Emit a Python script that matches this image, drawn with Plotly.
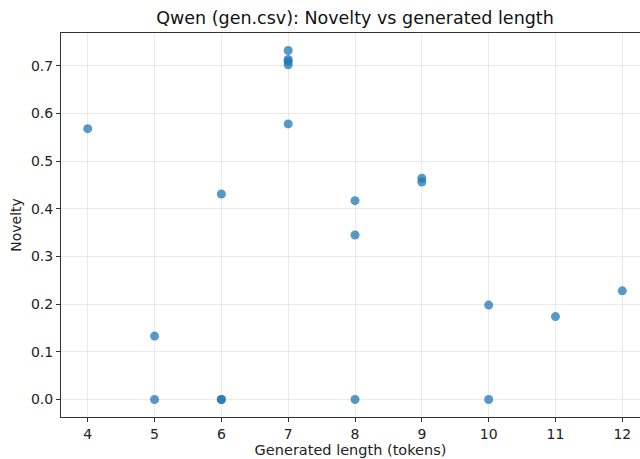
import plotly.graph_objects as go

gen_length = [4, 5, 5, 6, 6, 6, 7, 7, 7, 7, 7, 8, 8, 8, 9, 9, 10, 10, 11, 12]
novelty = [0.568, 0.133, 0.0, 0.431, 0.0, 0.0, 0.732, 0.713, 0.709, 0.702, 0.578,
           0.417, 0.345, 0.0, 0.464, 0.456, 0.198, 0.0, 0.174, 0.228]

fig = go.Figure()
fig.add_trace(go.Scatter(
    x=gen_length, y=novelty, mode="markers",
    marker=dict(color="#1f77b4", size=9, opacity=0.75, line=dict(width=0)),
    showlegend=False,
))

font = "DejaVu Sans"
fig.update_layout(
    width=640, height=459,
    margin=dict(l=61, r=0, t=33, b=42),
    paper_bgcolor="white", plot_bgcolor="white",
    font=dict(family=font, size=14, color="#222"),
    title=dict(text="Qwen (gen.csv): Novelty vs generated length",
               x=355/640, xref="container", xanchor="center",
               y=1-18/459, yref="container", yanchor="middle",
               font=dict(family=font, size=17.5, color="#111")),
)
fig.update_xaxes(
    range=[3.6, 12.265], tickvals=list(range(4, 13)),
    showline=True, linecolor="#333", linewidth=1, mirror=True,
    ticks="outside", ticklen=4, tickcolor="#333",
    showgrid=True, gridcolor="rgba(0,0,0,0.08)", gridwidth=1,
    zeroline=False,
    title=dict(text="Generated length (tokens)", standoff=4, font=dict(size=14.5)),
)
fig.update_yaxes(
    range=[-0.0366, 0.7686], tickvals=[0, 0.1, 0.2, 0.3, 0.4, 0.5, 0.6, 0.7],
    tickformat=".1f",
    showline=True, linecolor="#333", linewidth=1,
    ticks="outside", ticklen=4, tickcolor="#333",
    showgrid=True, gridcolor="rgba(0,0,0,0.08)", gridwidth=1,
    zeroline=False,
    title=dict(text="Novelty", standoff=6, font=dict(size=14)),
)
fig.write_html("out.html", config={"displayModeBar": False},
               post_script="document.body.style.margin='0';document.body.style.overflow='hidden';")
